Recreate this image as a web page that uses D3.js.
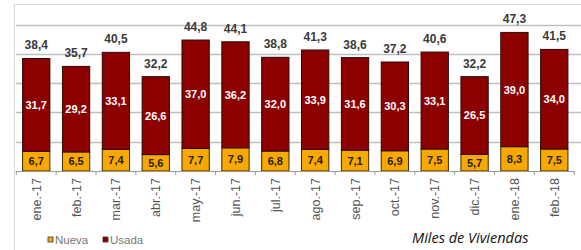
<!DOCTYPE html>
<html><head><meta charset="utf-8">
<script src="https://cdn.jsdelivr.net/npm/d3@7"></script>
<style>body{margin:0;background:#fff}svg{display:block}</style>
</head><body>
<script>
const categories = ["ene.-17","feb.-17","mar.-17","abr.-17","may.-17","jun.-17","jul.-17","ago.-17","sep.-17","oct.-17","nov.-17","dic.-17","ene.-18","feb.-18"];
const nueva = [6.7,6.5,7.4,5.6,7.7,7.9,6.8,7.4,7.1,6.9,7.5,5.7,8.3,7.5];
const usada = [31.7,29.2,33.1,26.6,37.0,36.2,32.0,33.9,31.6,30.3,33.1,26.5,39.0,34.0];
const totals = [38.4,35.7,40.5,32.2,44.8,44.1,38.8,41.3,38.6,37.2,40.6,32.2,47.3,41.5];
const gridValues = [10,20,30,40,50];
const seriesNames = ["Nueva","Usada"];
const unitLabel = "Miles de Viviendas";

const W = 581, H = 250;
const svg = d3.select("body").append("svg").attr("width", W).attr("height", H);
const fmt = v => d3.format(".1f")(v).replace(".", ",");

// outer frame
svg.append("line").attr("x1",14).attr("x2",W).attr("y1",4.5).attr("y2",4.5).attr("stroke","#d9d9d9");
svg.append("line").attr("x1",14.5).attr("x2",14.5).attr("y1",4).attr("y2",H).attr("stroke","#d9d9d9");

const x = d3.scaleBand().domain(categories).range([16.3, 574.2]).paddingInner(0.315).paddingOuter(0.1575);
const y = d3.scaleLinear().domain([0, 50]).range([171, 24.5]);

// gridlines
svg.append("g").selectAll("line").data(gridValues).join("line")
  .attr("x1", 16).attr("x2", W).attr("y1", d => Math.round(y(d))+0.5).attr("y2", d => Math.round(y(d))+0.5)
  .attr("stroke", "#bfbfbf").attr("stroke-width", 1.5);

const data = categories.map((c,i)=>({c, n:nueva[i], u:usada[i], t:totals[i]}));

const g = svg.append("g");
// Nueva segment
g.selectAll("rect.n").data(data).join("rect").attr("class","n")
  .attr("x", d => x(d.c)).attr("width", x.bandwidth())
  .attr("y", d => y(d.n)).attr("height", d => y(0) - y(d.n))
  .attr("fill", "#f9a800").attr("stroke", "#3a2a00").attr("stroke-width", 1);
// Usada segment
g.selectAll("rect.u").data(data).join("rect").attr("class","u")
  .attr("x", d => x(d.c)).attr("width", x.bandwidth())
  .attr("y", d => y(d.n + d.u)).attr("height", d => y(d.n) - y(d.n + d.u))
  .attr("fill", "#8c0000").attr("stroke", "#2a0a0a").attr("stroke-width", 1);

// labels
g.selectAll("text.n").data(data).join("text")
  .attr("x", d => x(d.c) + x.bandwidth()/2).attr("y", d => (y(0)+y(d.n))/2 + 4)
  .attr("text-anchor","middle").attr("font-family","Liberation Sans, Arial").attr("font-size",11).attr("font-weight","bold")
  .attr("fill","#222").text(d => fmt(d.n));
g.selectAll("text.u").data(data).join("text")
  .attr("x", d => x(d.c) + x.bandwidth()/2).attr("y", d => (y(d.n)+y(d.n+d.u))/2 + 4)
  .attr("text-anchor","middle").attr("font-family","Liberation Sans, Arial").attr("font-size",11).attr("font-weight","bold")
  .attr("fill","#fff").text(d => fmt(d.u));
g.selectAll("text.t").data(data).join("text")
  .attr("x", d => x(d.c) + x.bandwidth()/2).attr("y", d => y(d.t) - 9)
  .attr("text-anchor","middle").attr("font-family","Liberation Sans, Arial").attr("font-size",12).attr("font-weight","bold")
  .attr("fill","#3a3a3a").text(d => fmt(d.t));

// x axis
const ax = svg.append("g").attr("transform", `translate(0,${y(0)})`);
ax.append("line").attr("x1",16).attr("x2",574).attr("y1",0.5).attr("y2",0.5).attr("stroke","#999");
const bounds = categories.map(c => x(c) - x.step()*x.paddingInner()/2).concat([x(categories[categories.length-1]) + x.bandwidth() + x.step()*x.paddingInner()/2]);
ax.selectAll("line.tk").data(bounds).join("line").attr("class","tk")
  .attr("x1", d => d).attr("x2", d => d).attr("y1", 0).attr("y2", 4).attr("stroke","#999");
ax.selectAll("text").data(categories).join("text")
  .attr("transform", c => `translate(${x(c) + x.bandwidth()/2 + 4.5},7) rotate(-90)`)
  .attr("text-anchor","end").attr("font-family","Liberation Sans, Arial").attr("font-size",12.5)
  .attr("fill","#555").text(c => c);

// legend
const leg = svg.append("g").attr("font-family","Liberation Sans, Arial").attr("font-size",11.5).attr("fill","#777");
const legColors = ["#f9a800","#8c0000"];
const legX = [48, 103];
seriesNames.forEach((s,i)=>{
  leg.append("rect").attr("x",legX[i]).attr("y",237).attr("width",5).attr("height",5)
    .attr("fill",legColors[i]).attr("stroke","#333").attr("stroke-width",0.8);
  leg.append("text").attr("x",legX[i]+7).attr("y",243.5).text(s);
});

svg.append("text").attr("x",412).attr("y",243).attr("font-family","Open Sans, Liberation Sans").attr("font-style","italic")
  .attr("font-size",14.5).attr("fill","#111").text(unitLabel);
</script>
</body></html>
